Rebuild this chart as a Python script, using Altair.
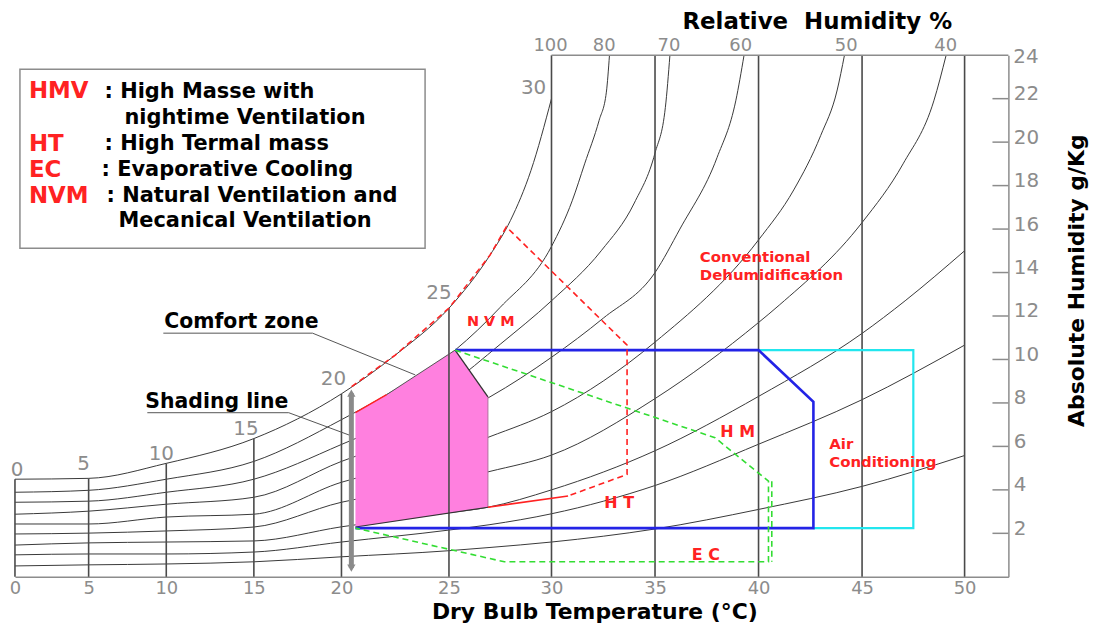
import altair as alt
import pandas as pd

# ---------------- data ----------------
X_TICKS = [0, 5, 10, 15, 20, 25, 30, 35, 40, 45, 50]
X_DOMAIN = [0, 5, 10, 15, 20, 25, 30, 35, 40, 45, 50, 52.1]
X_RANGE = [0, 74, 152, 240, 328, 436, 539, 643, 747, 851, 954, 998]
Y_TICKS = [2, 4, 6, 8, 10, 12, 14, 16, 18, 20, 22]
Y_TOP = 24
GRID_TOP = [4.49, 4.53, 5.22, 6.36, 8.42, 12.36, 24, 24, 24, 24, 24]

# relative-humidity curves (temperature degC, absolute humidity g/kg)
C100_T = [0, 5, 10, 15, 20, 22.5, 25, 27, 28, 29, 30]
C100_W = [4.49, 4.53, 5.22, 6.36, 8.42, 10.2, 12.36, 14.8, 16.4, 18.7, 22.0]
C80_T = [0, 5, 10, 15, 20, 22.1, 25.3, 27.5, 30, 31, 31.6, 32.3, 32.65, 32.8]
C80_W = [3.89, 3.98, 4.49, 5.31, 7.23, 8.38, 10.43, 12.4, 15.2, 17.3, 19.0, 21.0, 22.3, 24.0]
C70_T = [0, 5, 10, 15, 20, 22.5, 25, 27.5, 30, 32.4, 34, 35, 35.5, 35.72]
C70_W = [3.43, 3.48, 3.89, 4.49, 6.09, 7.2, 8.8, 10.7, 12.7, 15.0, 17.2, 19.5, 21.6, 24.0]
C60_T = [0, 5, 10, 15, 20, 22.5, 25, 27, 30, 32.5, 35, 36.2, 38, 38.9, 39.3]
C60_W = [2.88, 3.02, 3.34, 3.66, 5.31, 6.2, 7.3, 8.28, 10.1, 11.9, 14.0, 16.0, 19.3, 21.9, 24.0]
C50_T = [0, 5, 10, 15, 20, 22.5, 25, 27, 30, 35, 40, 41.7, 43, 43.8, 44.15]
C50_W = [2.43, 2.43, 2.75, 2.88, 4.35, 5.0, 5.75, 6.45, 7.6, 10.8, 15.5, 17.8, 20.3, 22.4, 24.0]
C40_T = [0, 5, 10, 15, 20, 22.5, 25, 27, 30, 35, 40, 41, 45, 47, 48.5, 49.1]
C40_W = [1.97, 2.01, 2.11, 2.29, 3.43, 3.9, 4.4, 4.85, 5.6, 8.2, 11.7, 12.5, 16.3, 19.0, 21.9, 24.0]
C30_T = [0, 5, 10, 15, 20, 25, 26.9, 30, 35, 40, 45, 47.1, 50]
C30_W = [1.46, 1.56, 1.60, 1.65, 2.3, 2.95, 3.2, 4.0, 5.8, 8.3, 11.2, 12.7, 15.0]
C20_T = [0, 5, 10, 15, 20, 25, 27, 30, 35, 40, 45, 50]
C20_W = [1.01, 1.05, 1.05, 1.14, 1.6, 2.15, 2.4, 2.9, 4.2, 6.1, 8.15, 10.66]
C10_T = [0, 5, 10, 15, 20, 25, 27, 30, 35, 40, 45, 50]
C10_W = [0.5, 0.55, 0.59, 0.69, 0.92, 1.2, 1.35, 1.6, 2.2, 3.1, 4.16, 5.58]

# comfort zone
COMFORT_T = [20.65, 22.1, 25.3, 26.9]
COMFORT_TOP = [7.55, 8.38, 10.43, 8.28]
COMFORT_BOT = [2.29, 2.5, 2.97, 3.2]

# strategy zones
NVM_T = [20.47, 22.5, 25, 27, 27.8, 33.65, 33.65, 30.8]
NVM_W = [8.75, 10.2, 12.36, 14.8, 16.1, 10.66, 4.71, 3.72]
HT_T = [26.9, 30.8]
HT_W = [3.2, 3.72]
RED_EDGE_T = [20.65, 22.1]
RED_EDGE_W = [7.55, 8.38]
AC_T = [25.3, 40, 42.65, 42.65, 20.65]
AC_W = [10.43, 10.43, 8.05, 2.24, 2.24]
CONV_T = [40, 47.5, 47.5, 42.65]
CONV_W = [10.43, 10.43, 2.24, 2.24]
EC_T = [25.3, 37.9, 40.48, 40.48, 27.7, 20.65]
EC_W = [10.43, 6.4, 4.4, 0.69, 0.69, 2.24]
EC2_T = [40.64, 40.64]
EC2_W = [4.4, 0.69]
SHADE_T = 20.46
SHADE_W = [0.4, 8.45]
PTR_SHADE_T = [8.78, 16.99, 20.42]
PTR_SHADE_W = [7.55, 7.55, 6.5]
PTR_COMFORT_T = [9.81, 18.35, 23.43]
PTR_COMFORT_W = [11.21, 11.21, 9.29]

SAT_LABELS = ["0", "5", "10", "15", "20", "25", "30"]
RH_LABELS = ["100", "80", "70", "60", "50", "40"]

# ---------------- chart ----------------
OX, OY = 15, 54          # page position of the plot origin
GRAY = "#8c8c8c"
FONT = "DejaVu Sans"
RED = "#ff2222"

xscale = alt.Scale(domain=X_DOMAIN, range=X_RANGE, nice=False, zero=False)
yscale = alt.Scale(domain=[0, Y_TOP], nice=False, zero=False)
X = alt.X("T:Q", scale=xscale, axis=alt.Axis(
    values=X_TICKS, grid=False, ticks=False, domainColor=GRAY, domainWidth=1.5,
    labelColor=GRAY, labelFontSize=18, labelFont=FONT, labelPadding=3,
    labelFlush=False, labelOverlap=False,
    title="Dry Bulb Temperature (°C)", titleFont=FONT, titleFontSize=22,
    titleFontWeight="bold", titleColor="black", titleX=582, titleY=35,
    titleBaseline="middle", titleAlign="center"))
Y = alt.Y("W:Q", scale=yscale, axis=alt.Axis(
    orient="right", values=Y_TICKS, grid=False, ticks=False, domainColor=GRAY,
    domainWidth=1.5, labelColor=GRAY, labelFontSize=20, labelFont=FONT,
    labelPadding=5, labelOffset=-5, labelOverlap=False, labelFlush=False,
    title="Absolute Humidity g/Kg", titleFont=FONT, titleFontSize=22,
    titleFontWeight="bold", titleColor="black", titleAngle=270, titleX=68,
    titleY=226, titleBaseline="middle", titleAlign="center"))


def poly(ts, ws, name="p"):
    return pd.DataFrame({"T": ts, "W": ws, "i": list(range(len(ts))), "g": name})


def line(ts, ws, color, width=1.0, dash=None):
    kw = dict(color=color, strokeWidth=width)
    if dash:
        kw["strokeDash"] = dash
    return alt.Chart(poly(ts, ws)).mark_line(**kw).encode(x=X, y=Y, order="i:Q")


curves = [("100", C100_T, C100_W), ("80", C80_T, C80_W), ("70", C70_T, C70_W),
          ("60", C60_T, C60_W), ("50", C50_T, C50_W), ("40", C40_T, C40_W),
          ("30", C30_T, C30_W), ("20", C20_T, C20_W), ("10", C10_T, C10_W)]
curve_df = pd.concat([poly(t, w, n) for n, t, w in curves], ignore_index=True)
curve_layer = alt.Chart(curve_df).mark_line(
    color="#383838", strokeWidth=1, interpolate="monotone").encode(
    x=X, y=Y, detail="g:N", order="i:Q")

grid_df = pd.DataFrame({"T": X_TICKS, "W": [0] * len(X_TICKS), "W2": GRID_TOP})
grid_layer = alt.Chart(grid_df).mark_rule(color="#4a4a4a", strokeWidth=1.6).encode(
    x=X, y=Y, y2=alt.Y2("W2:Q"))

top_df = pd.DataFrame({"T": [30], "T2": [X_DOMAIN[-1]], "W": [Y_TOP]})
top_layer = alt.Chart(top_df).mark_rule(color=GRAY, strokeWidth=1.5).encode(
    x=X, x2=alt.X2("T2:Q"), y=Y)

tick_df = pd.DataFrame({"W": Y_TICKS})
tick_layer = alt.Chart(tick_df).mark_rule(color=GRAY, strokeWidth=1.5).encode(
    x=alt.value(X_RANGE[-1] - 16), x2=alt.value(X_RANGE[-1]), y=Y)

comfort_df = pd.DataFrame({"T": COMFORT_T, "W": COMFORT_TOP, "W2": COMFORT_BOT})
comfort_layer = alt.Chart(comfort_df).mark_area(color="#ff80df", opacity=1).encode(
    x=X, y=Y, y2=alt.Y2("W2:Q"))

comfort_edges = [
    line([COMFORT_T[2], COMFORT_T[3]], [COMFORT_TOP[2], COMFORT_TOP[3]], "#333333", 1.3),
    line([COMFORT_T[3], COMFORT_T[3]], [COMFORT_TOP[3], COMFORT_BOT[3]], "#b070a0", 1.0),
    line([COMFORT_T[0], COMFORT_T[3]], [COMFORT_BOT[0], COMFORT_BOT[3]], "#333333", 1.2),
    line([COMFORT_T[1], COMFORT_T[2]], [COMFORT_TOP[1], COMFORT_TOP[2]], "#555555", 1.0),
]

zones = [
    line(CONV_T, CONV_W, "#22e6ee", 2.2),
    line(AC_T, AC_W, "#2323e6", 2.6),
    line(EC_T, EC_W, "#33dd33", 1.6, [6, 4]),
    line(EC2_T, EC2_W, "#33dd33", 1.6, [6, 4]),
    line(NVM_T, NVM_W, RED, 1.6, [6, 4]),
    line(HT_T, HT_W, RED, 1.6),
    line(RED_EDGE_T, RED_EDGE_W, RED, 1.4),
    line(PTR_SHADE_T, PTR_SHADE_W, "#555555", 1.0),
    line(PTR_COMFORT_T, PTR_COMFORT_W, "#555555", 1.0),
]

shade_df = pd.DataFrame({"T": [SHADE_T], "W": [SHADE_W[0]], "W2": [SHADE_W[1]]})
shade_layer = alt.Chart(shade_df).mark_rule(color="#8a8a8a", strokeWidth=5).encode(
    x=X, y=Y, y2=alt.Y2("W2:Q"))
arrow_df = pd.DataFrame({"T": [SHADE_T, SHADE_T], "W": SHADE_W,
                         "s": ["triangle-down", "triangle-up"]})
arrow_layer = alt.Chart(arrow_df).mark_point(filled=True, color="#8a8a8a", size=70,
                                             opacity=1).encode(
    x=X, y=Y, shape=alt.Shape("s:N", scale=None, legend=None))


def txt(s, px, py, size, color="black", weight="bold", align="left", angle=0):
    return alt.Chart(pd.DataFrame({"s": [s]})).mark_text(
        align=align, baseline="middle", font=FONT, fontSize=size, fontWeight=weight,
        color=color, angle=angle).encode(
        x=alt.value(px - OX), y=alt.value(py - OY), text="s:N")


texts = []
for s, (px, py) in zip(SAT_LABELS, [(17, 471), (84, 465), (162, 455), (247, 430),
                                    (335, 379), (441, 293), (536, 87)]):
    texts.append(txt(s, px, py, 20, GRAY, "normal", "center"))
for s, px in zip(RH_LABELS, [553, 607, 672, 744, 850, 950]):
    texts.append(txt(s, px, 45, 18, GRAY, "normal", "center"))
texts.append(txt(str(Y_TOP), 1018, 56, 20, GRAY, "normal", "left"))
texts.append(txt("Relative\u00a0 Humidity %", 821, 21, 23, "black", "bold", "center"))

# legend box
box = alt.Chart(pd.DataFrame({"a": [0]})).mark_rect(
    fill="white", stroke="#8c8c8c", strokeWidth=1.5).encode(
    x=alt.value(20 - OX), x2=alt.value(427 - OX), y=alt.value(68 - OY),
    y2=alt.value(248 - OY))
legend = [
    txt("HMV", 29, 90, 23, RED), txt(": High Masse with", 105, 91, 21),
    txt("nightime Ventilation", 125, 117, 21),
    txt("HT", 29, 143, 23, RED), txt(": High Termal mass", 105, 143, 21),
    txt("EC", 29, 169, 23, RED), txt(": Evaporative Cooling", 102, 169, 21),
    txt("NVM", 29, 195, 23, RED), txt(": Natural Ventilation and", 107, 195, 21),
    txt("Mecanical Ventilation", 119, 221, 21),
]

notes = [
    txt("Shading line", 146, 402, 20.5), txt("Comfort zone", 165, 322, 20.5),
    txt("N V M", 493, 322, 14.5, RED, "bold", "center"),
    txt("H T", 622, 504, 16, RED, "bold", "center"),
    txt("E C", 709, 556, 16, RED, "bold", "center"),
    txt("H M", 741, 433, 16, RED, "bold", "center"),
    txt("Conventional", 703, 257, 15, RED), txt("Dehumidification", 703, 275, 15, RED),
    txt("Air", 833, 445, 15, RED), txt("Conditioning", 833, 463, 15, RED),
]

chart = alt.layer(
    curve_layer, comfort_layer, grid_layer, top_layer, tick_layer,
    *comfort_edges, *zones, shade_layer, arrow_layer, box, *legend, *texts, *notes
).properties(
    width=998, height=524, autosize=alt.AutoSizeParams(type="none"),
    padding={"left": OX - 8, "top": OY - 8, "right": 85, "bottom": 46}
).configure_view(stroke=None)

chart.save("out.html", embed_options={"renderer": "svg", "actions": False})
